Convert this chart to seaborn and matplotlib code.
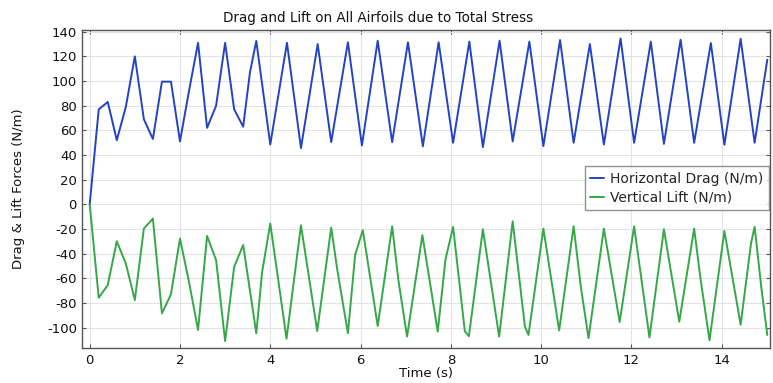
import numpy as np
import pandas as pd
import matplotlib
matplotlib.use("Agg")
import matplotlib.pyplot as plt
import seaborn as sns

# ---- data ----
drag_t = [0, 0.2, 0.4, 0.6, 0.8, 1.0, 1.2, 1.4, 1.6, 1.8, 2.0, 2.2, 2.4, 2.6, 2.8, 3.0,
          3.2, 3.4, 3.55, 3.69, 4.0, 4.37, 4.68, 5.05, 5.35, 5.72, 6.03, 6.38, 6.7, 7.05,
          7.38, 7.73, 8.05, 8.41, 8.71, 9.08, 9.37, 9.74, 10.05, 10.42, 10.72, 11.08,
          11.39, 11.76, 12.06, 12.43, 12.72, 13.09, 13.39, 13.76, 14.06, 14.42, 14.73, 15.01]
drag_v = [0, 77, 83, 52, 79, 120, 69, 53, 99.5, 99.5, 51, 92, 131, 62, 80, 131,
          77, 63, 107, 132.5, 48.5, 131, 45.6, 130, 50.4, 131.4, 47.7, 132.7, 50.4, 131.4,
          47, 131.4, 49.9, 132, 46.4, 132.7, 51, 132, 47.2, 133.3, 49.9, 130,
          48.5, 134.5, 49.9, 131.9, 49, 133.5, 49.9, 130.8, 48.3, 134.2, 49.9, 117.3]

lift_t = [0, 0.2, 0.4, 0.6, 0.8, 1.0, 1.2, 1.4, 1.6, 1.8, 2.0, 2.2, 2.4, 2.6, 2.8, 3.0,
          3.2, 3.4, 3.69, 3.82, 4.0, 4.36, 4.68, 5.04, 5.35, 5.48, 5.72, 5.88, 6.05, 6.38,
          6.7, 6.84, 7.03, 7.37, 7.71, 7.88, 8.05, 8.31, 8.4, 8.71, 9.07, 9.37, 9.64, 9.72,
          10.05, 10.4, 10.72, 10.88, 11.05, 11.39, 11.74, 12.06, 12.4, 12.72, 13.06, 13.39,
          13.53, 13.73, 14.06, 14.42, 14.65, 14.73, 14.88, 15.01]
lift_v = [0, -75.8, -65.5, -30, -48, -77.7, -19.7, -11.6, -88.5, -73, -27.8, -63, -102, -25.6, -45.3, -111,
          -50.7, -33, -104.6, -54.8, -15.6, -109, -17, -102.8, -18.9, -52, -104.6, -41, -21, -98.7,
          -17.8, -62, -107.3, -25, -103.3, -45, -18.3, -103, -107, -20.2, -107.3, -13.8, -99, -106,
          -19.7, -102.3, -17.8, -67, -108.6, -19.7, -95.5, -17.8, -108, -20.2, -95.2, -19.7,
          -60, -110.3, -21.6, -97.7, -31.6, -18.3, -68, -106]

x_ticks = [0, 2, 4, 6, 8, 10, 12, 14]
y_ticks = [-100, -80, -60, -40, -20, 0, 20, 40, 60, 80, 100, 120, 140]

series_names = ["Horizontal Drag (N/m)", "Vertical Lift (N/m)"]
title = "Drag and Lift on All Airfoils due to Total Stress"
x_label = "Time (s)"
y_label = "Drag & Lift Forces (N/m)"

# ---- style ----
sns.set_theme(style="whitegrid")
plt.rcParams["font.family"] = ["DejaVu Sans"]
plt.rcParams["axes.unicode_minus"] = False

fig = plt.figure(figsize=(7.73, 3.83), dpi=100)
ax = fig.add_axes([0.1067, 0.0906, 0.8894, 0.8311])

df_drag = pd.DataFrame({"t": drag_t, "v": drag_v})
df_lift = pd.DataFrame({"t": lift_t, "v": lift_v})

sns.lineplot(data=df_drag, x="t", y="v", ax=ax, color="#2443c4", lw=1.4,
             estimator=None, sort=False, label=series_names[0])
sns.lineplot(data=df_lift, x="t", y="v", ax=ax, color="#34a846", lw=1.4,
             estimator=None, sort=False, label=series_names[1])

ax.set_xlim(-0.16, 15.07)
ax.set_ylim(-116.8, 141.4)
ax.set_xticks(x_ticks)
ax.set_yticks(y_ticks)
ax.set_xticklabels([str(v) for v in x_ticks])
ax.set_yticklabels([str(v) for v in y_ticks])

ax.grid(True, color="#e3e3e3", lw=0.8)
ax.set_facecolor("white")
for s in ax.spines.values():
    s.set_color("#555555")
    s.set_linewidth(1.0)

ax.tick_params(axis="both", direction="in", length=3, width=0.8, color="#555555",
               labelsize=9.5, labelcolor="#111111", top=True, right=True,
               bottom=True, left=True, pad=4)

ax.set_title(title, fontsize=9.75, color="#111111", pad=6, x=0.43)
ax.set_xlabel(x_label, fontsize=9.5, color="#111111", labelpad=0)
ax.set_ylabel(y_label, fontsize=9.5, color="#111111", labelpad=16)

leg = ax.legend(loc="upper right", bbox_to_anchor=(0.998, 0.572), fontsize=10,
                frameon=True, fancybox=False, handlelength=1.0, handletextpad=0.4,
                borderpad=0.4, labelspacing=0.35, borderaxespad=0.0)
leg.get_frame().set_edgecolor("#777777")
leg.get_frame().set_linewidth(1.0)

fig.savefig("out.png", dpi=100)
